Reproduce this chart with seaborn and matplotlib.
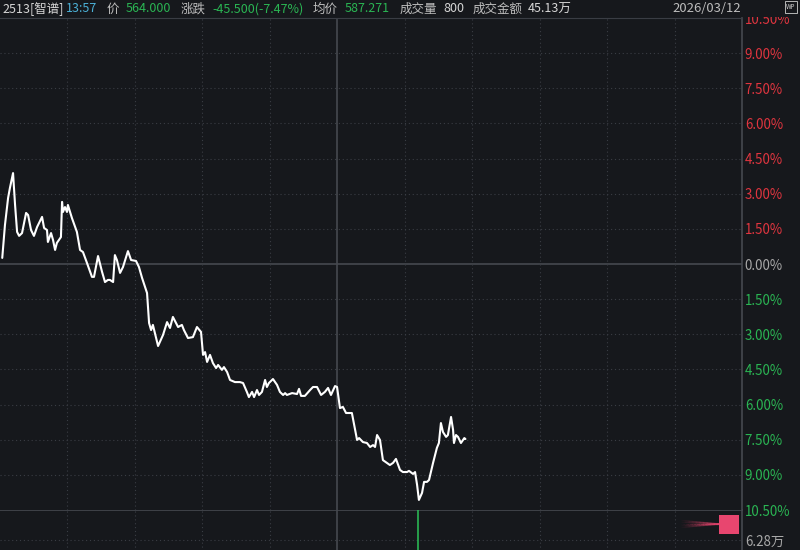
import numpy as np
import pandas as pd
import seaborn as sns
import matplotlib.pyplot as plt
from matplotlib.patches import Rectangle

# Intraday data: trading minutes since 9:30 (lunch break removed), % change vs prev close
minutes = [1, 2.2, 3.6, 4.4, 5.8, 6.7, 7.6, 8.5, 9.8, 11.6, 12.5, 13.8, 15.1, 16.5, 18.7,
           19.6, 20.9, 21.3, 22.7, 23.6, 24.5, 25.3, 27.1, 27.6, 28.0, 28.9, 29.8, 30.2,
           32.0, 34.2, 35.6, 36.9, 38.7, 40.9, 41.8, 43.6, 45.4, 46.7, 48.0, 48.9, 50.3,
           51.1, 52.0, 53.4, 54.7, 56.9, 58.3, 60.5, 61.8, 63.2, 65.4, 66.3, 67.2, 68.0,
           70.3, 72.5, 74.3, 75.6, 76.9, 79.2, 80.9, 81.8, 83.6, 85.8, 87.6, 89.4, 90.3,
           91.2, 92.1, 93.4, 94.7, 96.1, 97.0, 98.7, 99.6, 101.0, 102.3, 104.5, 106.7,
           108.1, 109.8, 110.7, 112.1, 113.0, 114.3, 115.2, 116.5, 117.9, 118.7, 119.6,
           121.4, 123.2, 124.5, 125.9, 126.8, 127.6, 129.9, 132.1, 133.0, 133.9, 135.6,
           137.9, 139.2, 141.0, 142.8, 144.5, 145.9, 147.2, 149.0, 149.9, 151.2, 152.5,
           153.9, 155.2, 156.5, 158.8, 159.7, 161.4, 163.2, 164.6, 165.9, 166.8, 167.7,
           169.0, 170.3, 172.1, 173.4, 174.8, 176.1, 177.9, 179.2, 181.0, 181.9, 183.7,
           184.6, 185.5, 186.3, 187.7, 188.6, 189.9, 190.8, 192.6, 194.3, 195.2, 196.1,
           197.0, 198.4, 199.2, 200.6, 201.5, 201.9, 202.8, 203.7, 205.0, 205.9, 206.5, 207.0]
pct_change = [0.26, 1.66, 2.82, 3.24, 3.88, 2.52, 1.37, 1.20, 1.32, 2.18, 2.09, 1.45, 1.20,
              1.58, 2.01, 1.54, 1.45, 0.94, 1.32, 1.02, 0.60, 0.90, 1.15, 2.65, 2.22, 2.43,
              2.22, 2.52, 1.96, 1.37, 0.60, 0.51, 0.04, -0.55, -0.55, 0.34, -0.34, -0.77,
              -0.68, -0.68, -0.77, 0.38, 0.17, -0.38, -0.13, 0.55, 0.17, 0.13, -0.13, -0.60,
              -1.24, -2.52, -2.82, -2.60, -3.50, -3.03, -2.48, -2.73, -2.26, -2.69, -2.60,
              -2.82, -3.16, -3.12, -2.69, -2.90, -3.88, -3.76, -4.18, -3.88, -4.23, -4.44,
              -4.31, -4.52, -4.40, -4.61, -4.95, -5.04, -5.04, -5.08, -5.46, -5.68, -5.46,
              -5.68, -5.38, -5.59, -5.46, -4.95, -5.25, -5.08, -4.91, -5.16, -5.46, -5.59,
              -5.51, -5.59, -5.51, -5.55, -5.33, -5.63, -5.63, -5.38, -5.25, -5.25, -5.59,
              -5.46, -5.29, -5.59, -5.21, -5.25, -6.15, -6.10, -6.36, -6.36, -6.36, -7.51,
              -7.43, -7.60, -7.64, -7.81, -7.73, -7.81, -7.30, -7.51, -8.37, -8.49, -8.58,
              -8.49, -8.32, -8.79, -8.88, -8.88, -8.83, -8.96, -8.88, -9.43, -10.07, -9.77,
              -9.30, -9.30, -9.22, -8.49, -7.85, -7.64, -6.79, -7.17, -7.38, -7.30, -6.53,
              -7.08, -7.64, -7.30, -7.38, -7.64, -7.51, -7.43, -7.47]

vol_minutes = [186]
vol_values = [12.56]  # 万

pct_ticks = [10.5, 9.0, 7.5, 6.0, 4.5, 3.0, 1.5, 0.0, -1.5, -3.0, -4.5, -6.0, -7.5, -9.0, -10.5]
time_grid = [30, 60, 90, 120, 180, 210, 240, 270, 300]

header = [("2513[智谱]", "#d6d6d6"), ("13:57", "#4bb0d6"), ("价", "#bdbdbd"),
          ("564.000", "#2ab553"), ("涨跌", "#bdbdbd"), ("-45.500(-7.47%)", "#2ab553"),
          ("均价", "#bdbdbd"), ("587.271", "#2ab553"), ("成交量", "#bdbdbd"),
          ("800", "#d6d6d6"), ("成交金额", "#bdbdbd"), ("45.13万", "#d6d6d6")]
header_x = [2, 66, 107, 126, 181, 212, 313, 345, 400, 443, 473, 528]
trade_date = "2026/03/12"

BG = "#16181c"
GRID = "#3a3d44"
SOLID = "#46494f"
RED = "#e0353f"
GREEN = "#2ab553"

sns.set_style("dark")
plt.rcParams["font.family"] = ["Noto Sans CJK SC", "DejaVu Sans"]

df = pd.DataFrame({"minute": minutes, "pct": pct_change})

fig = plt.figure(figsize=(8, 5.5), dpi=100, facecolor=BG)
W, H = 800, 550

# main price panel: x 0..742 px, y 18..510 px
ax = fig.add_axes([0, (H - 510) / H, 742 / W, 492 / H], facecolor=BG)
ax.set_xlim(0, 330)
ax.set_ylim(-10.5, 10.5)
for v in pct_ticks:
    if v == 0:
        ax.axhline(v, color=SOLID, lw=1.2, zorder=1)
    elif abs(v) < 10.5:
        ax.axhline(v, color=GRID, lw=0.8, ls=(0, (1, 2.5)), zorder=1)
for t in time_grid:
    ax.axvline(t, color=GRID, lw=0.8, ls=(0, (1, 2.5)), zorder=1)
ax.axvline(150, color=SOLID, lw=1.2, zorder=1)

sns.lineplot(data=df, x="minute", y="pct", ax=ax, color="white", linewidth=1.5, zorder=3)

ax.set_xlabel("")
ax.set_ylabel("")
ax.set_xticks([])
ax.yaxis.tick_right()
ax.set_yticks(pct_ticks)
ax.set_yticklabels([f"{abs(v):.2f}%" for v in pct_ticks])
ax.tick_params(axis="y", length=0, pad=2, labelsize=9.6)
for lab, v in zip(ax.get_yticklabels(), pct_ticks):
    lab.set_color(RED if v > 0 else (GREEN if v < 0 else "#a8a8a8"))
ax.grid(False)
for side in ["left", "top", "bottom"]:
    ax.spines[side].set_visible(False)
ax.spines["right"].set_color(SOLID)
ax.spines["right"].set_linewidth(1.2)
ax.spines["top"].set_visible(True)
ax.spines["top"].set_color(GRID)
ax.spines["top"].set_linewidth(0.8)

# volume panel: y 510..570 px (bottom cut off by the figure edge)
axv = fig.add_axes([0, -20 / H, 742 / W, 60 / H], facecolor=BG)
axv.set_xlim(0, 330)
axv.set_ylim(0, 12.56)
axv.axhline(6.28, color=GRID, lw=0.8, ls=(0, (1, 2.5)))
for t in time_grid:
    axv.axvline(t, color=GRID, lw=0.8, ls=(0, (1, 2.5)))
axv.axvline(150, color=SOLID, lw=1.2)
axv.vlines(vol_minutes, 0, vol_values, color=GREEN, lw=1.2, zorder=3)
axv.set_xticks([])
axv.yaxis.tick_right()
axv.set_yticks([6.28])
axv.set_yticklabels(["6.28万"])
axv.tick_params(axis="y", length=0, pad=2, labelsize=9.6, labelcolor="#a8a8a8")
axv.grid(False)
for side in ["left", "bottom"]:
    axv.spines[side].set_visible(False)
axv.spines["right"].set_color(SOLID)
axv.spines["right"].set_linewidth(1.2)
axv.spines["top"].set_color(SOLID)
axv.spines["top"].set_linewidth(1.2)
axv.set_zorder(-1)

# header strip covering the top of the chart
fig.patches.append(Rectangle((0, 1 - 17 / H), 1, 17 / H, transform=fig.transFigure,
                             facecolor=BG, edgecolor="none", zorder=5))
for (txt, col), x in zip(header, header_x):
    fig.text(x / W, 1 - 9 / H, txt, color=col, fontsize=9.0, va="center", ha="left", zorder=6)
fig.text(741 / W, 1 - 9 / H, trade_date, color="#bdbdbd", fontsize=9.4,
         va="center", ha="right", zorder=6)
fig.text(791 / W, 1 - 7 / H, "WP", color="#cfcfcf", fontsize=4.5, va="center", ha="center",
         zorder=6, bbox=dict(boxstyle="square,pad=0.25", fc=BG, ec="#cfcfcf", lw=0.6))

# pink marker with a fading trail in the volume corner
for k, dy in enumerate([-6, -3, 0, 3, 6]):
    xs = np.linspace(680, 720, 30)
    ys = 524 + dy * (xs - 680) / 40 * 0.6 - dy * 0.6
    for j in range(len(xs) - 1):
        fig.lines.append(plt.Line2D([xs[j] / W, xs[j + 1] / W],
                                    [1 - ys[j] / H, 1 - ys[j + 1] / H],
                                    transform=fig.transFigure, color="#e8466f",
                                    lw=1.0, alpha=0.45 * j / len(xs), zorder=4))
fig.patches.append(Rectangle((719 / W, 1 - 534 / H), 20 / W, 19 / H, transform=fig.transFigure,
                             facecolor="#e8466f", edgecolor="none", zorder=5))

fig.savefig("out.png", dpi=100, facecolor=BG)
